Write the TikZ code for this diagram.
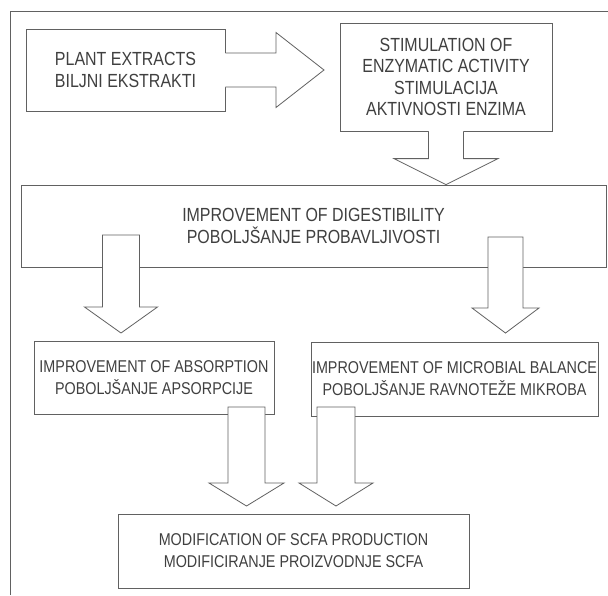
\documentclass[tikz,border=0pt]{standalone}
\usepackage{fontspec}
\setmainfont[FakeStretch=0.84]{Liberation Sans}
\usetikzlibrary{calc}
\definecolor{linecol}{gray}{0.38}
\definecolor{textcol}{gray}{0.25}
\tikzset{
  box/.style={draw=linecol, line width=0.8pt, fill=white, inner sep=0pt, align=center,
    text=textcol, font=\fontsize{17.1}{22}\selectfont},
  bigtext/.style={font=\fontsize{19}{21.6}\selectfont},
  blk/.style={draw=linecol, line width=0.8pt, fill=white, line join=miter},
  blkfill/.style={fill=white, draw=none},
  blkline/.style={draw=linecol, line width=0.8pt, line join=miter},
  frameline/.style={draw=linecol, line width=0.8pt}
}
% closed down arrow: start, tip, shaft half width, head half width, head length
\newcommand\darrclosed[5]{%
  \path[blk] let \p1=(#1), \p2=(#2) in
   ({\x2-#3},\y1) -- ({\x2+#3},\y1) -- ({\x2+#3},{\y2+#5}) -- ({\x2+#4},{\y2+#5}) -- (\x2,\y2)
   -- ({\x2-#4},{\y2+#5}) -- ({\x2-#3},{\y2+#5}) -- cycle;}
% open-top down arrow (merges into the box above)
\newcommand\darropen[5]{%
  \path[blkfill] let \p1=(#1), \p2=(#2) in
   ({\x2-#3},{\y1+0.6pt}) -- ({\x2+#3},{\y1+0.6pt}) -- ({\x2+#3},{\y2+#5}) -- ({\x2+#4},{\y2+#5}) -- (\x2,\y2)
   -- ({\x2-#4},{\y2+#5}) -- ({\x2-#3},{\y2+#5}) -- cycle;
  \path[blkline] let \p1=(#1), \p2=(#2) in
   ({\x2+#3},\y1) -- ({\x2+#3},{\y2+#5}) -- ({\x2+#4},{\y2+#5}) -- (\x2,\y2)
   -- ({\x2-#4},{\y2+#5}) -- ({\x2-#3},{\y2+#5}) -- ({\x2-#3},\y1);}
% open-left right arrow (merges into the box at left)
\newcommand\rarropen[5]{%
  \path[blkfill] let \p1=(#1), \p2=(#2) in
   ({\x1-0.6pt},{\y2+#3}) -- ({\x2-#5},{\y2+#3}) -- ({\x2-#5},{\y2+#4}) -- (\x2,\y2)
   -- ({\x2-#5},{\y2-#4}) -- ({\x2-#5},{\y2-#3}) -- ({\x1-0.6pt},{\y2-#3}) -- cycle;
  \path[blkline] let \p1=(#1), \p2=(#2) in
   (\x1,{\y2+#3}) -- ({\x2-#5},{\y2+#3}) -- ({\x2-#5},{\y2+#4}) -- (\x2,\y2)
   -- ({\x2-#5},{\y2-#4}) -- ({\x2-#5},{\y2-#3}) -- (\x1,{\y2-#3});}
\begin{document}
\begin{tikzpicture}[x=1pt,y=-1pt]
\useasboundingbox (0,0) rectangle (608,595);
\fill[white] (0,0) rectangle (608,595);
% outer frame
\coordinate (fbl) at (10,595);
\coordinate (ftl) at (10,11);
\coordinate (ftr) at (608,11);
\draw[frameline] (fbl) -- (ftl) -- (ftr);

% boxes
\node[box, bigtext, minimum width=199pt, minimum height=82pt] (plant) at (125.5,70)
  {PLANT EXTRACTS\\BILJNI EKSTRAKTI};
\node[box, bigtext, minimum width=212pt, minimum height=108pt] (stim) at (446,77)
  {STIMULATION OF\\ENZYMATIC ACTIVITY\\STIMULACIJA\\AKTIVNOSTI ENZIMA};
\node[box, bigtext, minimum width=585pt, minimum height=82pt] (digest) at (313.5,226)
  {IMPROVEMENT OF DIGESTIBILITY\\POBOLJŠANJE PROBAVLJIVOSTI};
\node[box, minimum width=240pt, minimum height=73pt] (absorp) at (154,377.5)
  {IMPROVEMENT OF ABSORPTION\\POBOLJŠANJE APSORPCIJE};
\node[box, minimum width=287pt, minimum height=74pt] (microb) at (454.5,379)
  {IMPROVEMENT OF MICROBIAL BALANCE\\POBOLJŠANJE RAVNOTEŽE MIKROBA};
\node[box, minimum width=351pt, minimum height=74pt] (scfa) at (293.5,551)
  {MODIFICATION OF SCFA PRODUCTION\\MODIFICIRANJE PROIZVODNJE SCFA};

% block arrows
\coordinate (plantTip) at (324,70);
\rarropen{plant.east}{plantTip}{17pt}{37.5pt}{48pt}

\coordinate (stimTip) at (stim.south |- digest.north);
\darropen{stim.south}{stimTip}{17.5pt}{52pt}{26pt}

\coordinate (dLs) at (121,235);
\coordinate (dLt) at (121,333);
\darrclosed{dLs}{dLt}{18.5pt}{36.5pt}{26pt}

\coordinate (dRs) at (505.5,237);
\coordinate (dRt) at (505.5,333);
\darrclosed{dRs}{dRt}{17.5pt}{33.5pt}{25pt}

\coordinate (aSs) at (246.5,407);
\coordinate (aSt) at (246.5,506);
\darrclosed{aSs}{aSt}{18.5pt}{37.5pt}{23pt}

\coordinate (mSs) at (336,407);
\coordinate (mSt) at (336,506);
\darrclosed{mSs}{mSt}{19pt}{37pt}{23pt}
\end{tikzpicture}
\end{document}
